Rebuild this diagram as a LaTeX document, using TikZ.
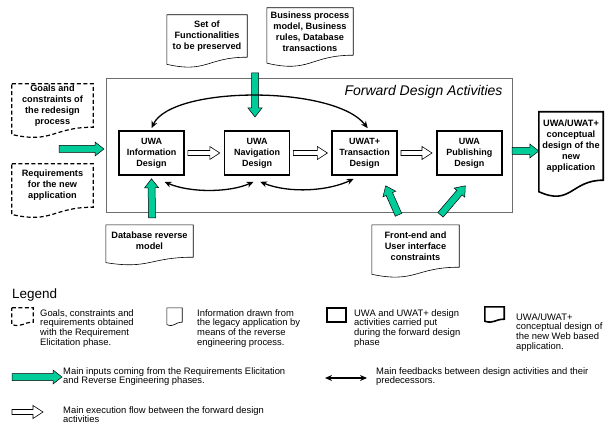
\documentclass[tikz,border=0pt]{standalone}
\usepackage{fontspec}
\setmainfont{Liberation Sans}
\usetikzlibrary{positioning,calc,arrows.meta}
\definecolor{inputgreen}{RGB}{0,204,153}
\definecolor{framegray}{RGB}{110,110,110}

% outline of a document symbol round a node (wavy bottom)
\newcommand{\docoutline}[2][]{%
  \draw[#1] let \p1=(#2.north west), \p2=(#2.south east), \n1={\y1-\y2} in
    (\p1) -- (\x2,\y1) -- (\p2)
    .. controls ({0.5*(\x1+\x2)},\y2) and ({0.5*(\x1+\x2)},{\y2-0.384*\n1}) .. (\x1,{\y2-0.1675*\n1}) -- cycle;}

% block arrow: style, from, to, half shaft, half head, head length
\newcommand{\blockarrow}[6][]{%
  \coordinate (hb) at ($(#3)!#6!(#2)$);
  \draw[#1] ($(#2)!#4!90:(#3)$) -- ($(hb)!#4!-90:(#2)$) -- ($(hb)!#5!-90:(#2)$) -- (#3)
    -- ($(hb)!#5!90:(#2)$) -- ($(hb)!#4!90:(#2)$) -- ($(#2)!#4!-90:(#3)$) -- cycle;}

\begin{document}
\begin{tikzpicture}[x=1pt, y=-1pt, node distance=39pt,
    design/.style={draw, line width=1.6pt, minimum width=65pt, minimum height=44pt, inner sep=0pt, align=center, font=\fontsize{9}{11}\selectfont\bfseries},
    docnode/.style={inner sep=0pt, align=center, font=\fontsize{9.2}{11}\selectfont\bfseries},
    legtext/.style={anchor=north west, inner sep=0pt, align=left, font=\fontsize{9.4}{9.7}\selectfont},
    reqline/.style={line width=1.2pt, dash pattern=on 4pt off 2.5pt},
    docline/.style={line width=0.6pt},
    outline/.style={line width=1.6pt},
    greenin/.style={fill=inputgreen, draw=black, line width=0.5pt},
    flow/.style={fill=white, draw=black, line width=0.6pt},
    fb/.style={line width=1.3pt, {Stealth[length=7pt,width=6pt]}-{Stealth[length=7pt,width=6pt]}}]
  \useasboundingbox (0,0) rectangle (608,425);

  % forward design frame
  \draw[framegray, line width=0.8pt] (106,78) rectangle (512,212);
  \node[anchor=east, font=\fontsize{14}{16}\selectfont\itshape] (title) at (506,92) {Forward Design Activities};

  % design activities
  \node[design] (info) at (151.5,153) {UWA\\Information\\Design};
  \node[design] (nav) [right=of info] {UWA\\Navigation\\Design};
  \node[design] (trans) [right=41pt of nav] {UWAT+\\Transaction\\Design};
  \node[design] (pub) [right=38pt of trans] {UWA\\Publishing\\Design};

  % inputs
  \node[docnode, minimum width=81pt, minimum height=43pt] (goals) at (52.5,105.5) {Goals and\\constraints of\\the redesign\\process};
  \docoutline[reqline]{goals}
  \node[docnode, minimum width=81pt, minimum height=43pt] (reqs) at (52.5,185.5) {Requirements\\for the new\\application};
  \docoutline[reqline]{reqs}
  \node[docnode, minimum width=80pt, minimum height=42pt] (setfun) at (207,36) {Set of\\Functionalities\\to be preserved};
  \docoutline[docline]{setfun}
  \node[docnode, minimum width=86pt, minimum height=47pt] (bizrules) at (310,31.5) {Business process\\model, Business\\rules, Database\\transactions};
  \docoutline[docline]{bizrules}
  \node[docnode, minimum width=87pt, minimum height=32pt] (dbrev) at (149.5,241) {Database reverse\\model};
  \docoutline[docline]{dbrev}
  \node[docnode, minimum width=87pt, minimum height=42pt] (frontend) at (415.5,246) {Front-end and\\User interface\\constraints};
  \docoutline[docline]{frontend}
  \node[docnode, minimum width=64pt, minimum height=68pt] (newdesign) at (571,146) {UWA/UWAT+\\conceptual\\design of the\\new\\application};
  \docoutline[outline]{newdesign}

  % green inputs
  \coordinate (reqA) at (59,149);
  \coordinate (reqB) at (104,149);
  \blockarrow[greenin]{reqA}{reqB}{3.5pt}{7pt}{9pt}
  \coordinate (bizA) at (255,73);
  \coordinate (bizB) at (255,117);
  \blockarrow[greenin]{bizA}{bizB}{3.5pt}{7pt}{9pt}
  \coordinate (dbA) at ([shift={(2.5,-7)}]dbrev.north);
  \coordinate (dbB) at ([shift={(0,3)}]info.south);
  \blockarrow[greenin]{dbA}{dbB}{3.5pt}{7pt}{9pt}
  \coordinate (feA) at ([shift={(-17,-10)}]frontend.north);
  \coordinate (feB) at ([shift={(21,10)}]trans.south);
  \blockarrow[greenin]{feA}{feB}{3.5pt}{7pt}{9pt}
  \coordinate (feC) at ([shift={(25,-10)}]frontend.north);
  \coordinate (feD) at ([shift={(-4,10)}]pub.south);
  \blockarrow[greenin]{feC}{feD}{3.5pt}{7pt}{9pt}
  \coordinate (outA) at (512,151);
  \coordinate (outB) at ([yshift=-5pt]newdesign.west);
  \blockarrow[greenin]{outA}{outB}{3.5pt}{7pt}{9pt}

  % execution flow
  \blockarrow[flow]{[xshift=3pt]info.east}{[xshift=-4pt]nav.west}{2.5pt}{6.5pt}{10pt}
  \blockarrow[flow]{[xshift=3pt]nav.east}{[xshift=-4pt]trans.west}{2.5pt}{6.5pt}{10pt}
  \blockarrow[flow]{[xshift=3pt]trans.east}{[xshift=-4pt]pub.west}{2.5pt}{6.5pt}{10pt}

  % feedbacks
  \draw[fb] ([yshift=2pt]info.north) .. controls ($(info.north)+(20,-45)$) and ($(trans.north)+(-30,-45)$) .. ([shift={(3,-2)}]trans.north);
  \draw[fb] ([shift={(13,6)}]info.south) .. controls ($(info.south)+(38,17)$) and ($(nav.south)+(-28,17)$) .. ([shift={(-3.5,6)}]nav.south);
  \draw[fb] ([shift={(3,6)}]nav.south) .. controls ($(nav.south)+(33,18)$) and ($(trans.south)+(-36,15)$) .. ([shift={(-11,3)}]trans.south);

  % legend
  \node[anchor=base west, inner sep=0pt, font=\fontsize{13.5}{15}\selectfont] (legend) at (12,298) {Legend};
  \node[minimum width=21pt, minimum height=14pt, inner sep=0pt] (iconreq) at (22.5,315) {};
  \docoutline[reqline]{iconreq}
  \node[legtext] (txtreq) at (40,309) {Goals, constraints and\\requirements obtained\\with the Requirement\\Elicitation phase.};
  \node[minimum width=15pt, minimum height=14pt, inner sep=0pt] (icondoc) at (174.5,315) {};
  \docoutline[docline]{icondoc}
  \node[legtext] (txtdoc) at (197,309) {Information drawn from\\the legacy application by\\means of the reverse\\engineering process.};
  \node[draw, line width=1.6pt, minimum width=19pt, minimum height=14pt, inner sep=0pt] (iconbox) at (336.5,315) {};
  \node[legtext] (txtbox) at (354,309) {UWA and UWAT+ design\\activities carried put\\during the forward design\\phase};
  \node[minimum width=19pt, minimum height=12pt, inner sep=0pt] (iconout) at (494.5,313) {};
  \docoutline[outline]{iconout}
  \node[legtext] (txtout) at (516,313) {UWA/UWAT+\\conceptual design of\\the new Web based\\application.};

  \coordinate (lgA) at (12,377);
  \coordinate (lgB) at (62,377);
  \blockarrow[greenin]{lgA}{lgB}{3.5pt}{7pt}{9pt}
  \node[legtext] (txtgreen) at (63,367) {Main inputs coming from the Requirements Elicitation\\and Reverse Engineering phases.};
  \coordinate (lfA) at (325,378);
  \coordinate (lfB) at (367,378);
  \draw[fb] (lfA) -- (lfB);
  \node[legtext] (txtfb) at (376,367) {Main feedbacks between design activities and their\\predecessors.};
  \coordinate (lhA) at (12,412);
  \coordinate (lhB) at (43,412);
  \blockarrow[flow]{lhA}{lhB}{2.5pt}{6.5pt}{10pt}
  \node[legtext] (txtflow) at (63,406) {Main execution flow between the forward design\\activities};
\end{tikzpicture}
\end{document}
